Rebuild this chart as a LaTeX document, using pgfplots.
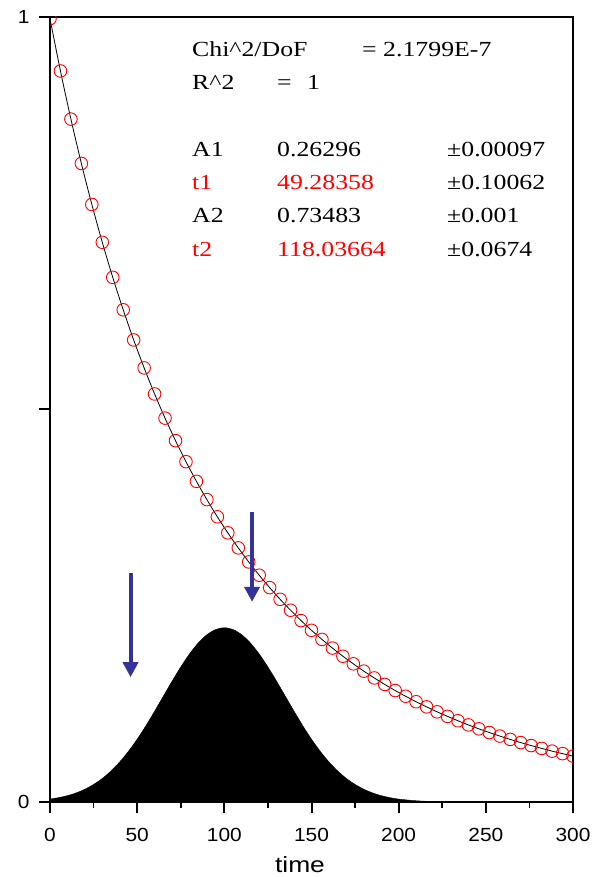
\documentclass[border=0pt]{standalone}
\usepackage{fontspec}
\setmainfont{Liberation Sans}[FakeStretch=1.1]
\newfontfamily\annotfont{Liberation Serif}[FakeStretch=1.2]
\newfontfamily\labelfont{Liberation Sans}[FakeStretch=1.2]
\usepackage{pgfplots}
\pgfplotsset{compat=1.18}
\usetikzlibrary{arrows.meta}
\definecolor{arrowblue}{RGB}{51,51,153}
\newcommand{\ticksize}{\fontsize{19}{22}\selectfont}
\newcommand{\annot}{\annotfont\fontsize{21.5}{25}\selectfont}

\begin{document}
\begin{tikzpicture}
\path[use as bounding box] (-50pt,-75pt) rectangle (553pt,802pt);
\begin{axis}[
  at={(0,0)},anchor=south west,
  scale only axis,width=523pt,height=785pt,
  xmin=0,xmax=300,ymin=0,ymax=1,
  xtick={0,50,...,300},minor x tick num=1,
  ytick={0,0.5,1},yticklabels={0,{},1},
  tick align=outside,xtick pos=left,ytick pos=left,
  major tick length=11pt,minor tick length=6pt,
  axis line style={line width=2pt},
  major tick style={black,line width=2pt},
  minor tick style={black,line width=1.6pt},
  tick label style={font=\ticksize},
  xticklabel style={yshift=-12pt},
  yticklabel style={xshift=-6pt},
  /pgf/number format/assume math mode=true,
  xlabel={time},
  xlabel style={font=\labelfont\fontsize{22}{26}\selectfont,at={(rel axis cs:0.478,0)},anchor=base,yshift=-70pt},
  clip marker paths=true,
]
% pulse
\addplot[fill=black,draw=black,smooth] coordinates {
(0,0.0037)(5,0.0056)(10,0.0081)(15,0.0116)(20,0.0163)(25,0.0224)(30,0.0300)
(35,0.0396)(40,0.0511)(45,0.0646)(50,0.0800)(55,0.0971)(60,0.1156)(65,0.1347)
(70,0.1538)(75,0.1720)(80,0.1886)(85,0.2025)(90,0.2131)(95,0.2197)(100,0.2220)
(105,0.2197)(110,0.2131)(115,0.2025)(120,0.1886)(125,0.1720)(130,0.1538)
(135,0.1347)(140,0.1156)(145,0.0971)(150,0.0800)(155,0.0646)(160,0.0511)
(165,0.0396)(170,0.0300)(175,0.0224)(180,0.0163)(185,0.0116)(190,0.0081)
(195,0.0056)(200,0.0037)(210,0.0016)(220,0.0006)(230,0.0002)(240,0)(300,0)
} \closedcycle;
% fit curve
\addplot[black,line width=0.8pt,smooth] coordinates {
(0,0.9978)(6,0.9312)(12,0.8699)(18,0.8134)(24,0.7612)(30,0.7130)(36,0.6683)
(42,0.6270)(48,0.5886)(54,0.5530)(60,0.5198)(66,0.4890)(72,0.4603)(78,0.4335)
(84,0.4085)(90,0.3852)(96,0.3633)(102,0.3429)(108,0.3237)(114,0.3058)(120,0.2889)
(126,0.2731)(132,0.2582)(138,0.2443)(144,0.2311)(150,0.2187)(156,0.2071)
(162,0.1961)(168,0.1857)(174,0.1760)(180,0.1667)(186,0.1580)(192,0.1498)
(198,0.1420)(204,0.1347)(210,0.1277)(216,0.1212)(222,0.1149)(228,0.1091)
(234,0.1035)(240,0.0982)(246,0.0932)(252,0.0885)(258,0.0840)(264,0.0797)
(270,0.0757)(276,0.0719)(282,0.0683)(288,0.0648)(294,0.0616)(300,0.0585)
};
% data
\addplot[only marks,mark=o,mark size=6.3pt,red,line width=0.9pt] coordinates {
(0,0.9978)(6,0.9312)(12,0.8699)(18,0.8134)(24,0.7612)(30,0.7130)(36,0.6683)
(42,0.6270)(48,0.5886)(54,0.5530)(60,0.5198)(66,0.4890)(72,0.4603)(78,0.4335)
(84,0.4085)(90,0.3852)(96,0.3633)(102,0.3429)(108,0.3237)(114,0.3058)(120,0.2889)
(126,0.2731)(132,0.2582)(138,0.2443)(144,0.2311)(150,0.2187)(156,0.2071)
(162,0.1961)(168,0.1857)(174,0.1760)(180,0.1667)(186,0.1580)(192,0.1498)
(198,0.1420)(204,0.1347)(210,0.1277)(216,0.1212)(222,0.1149)(228,0.1091)
(234,0.1035)(240,0.0982)(246,0.0932)(252,0.0885)(258,0.0840)(264,0.0797)
(270,0.0757)(276,0.0719)(282,0.0683)(288,0.0648)(294,0.0616)(300,0.0585)
};
\draw[arrowblue,line width=4pt,-{Triangle[length=15pt,width=15pt]}] (axis cs:46.2,0.292) -- (axis cs:46.2,0.159);
\draw[arrowblue,line width=4pt,-{Triangle[length=15pt,width=15pt]}] (axis cs:115.9,0.370) -- (axis cs:115.9,0.255);
\end{axis}
\begin{scope}[every node/.style={anchor=base west,inner sep=0pt,font=\annot}]
\node at (142pt,745pt) {Chi\textasciicircum2/DoF};
\node at (312pt,745pt) {= 2.1799E-7};
\node at (142pt,712pt) {R\textasciicircum2};
\node at (227pt,712pt) {=};
\node at (257pt,712pt) {1};
\node at (142pt,645pt) {A1};
\node at (227pt,645pt) {0.26296};
\node at (397pt,645pt) {±0.00097};
\node[text=red] at (142pt,612pt) {t1};
\node[text=red] at (227pt,612pt) {49.28358};
\node at (397pt,612pt) {±0.10062};
\node at (142pt,579pt) {A2};
\node at (227pt,579pt) {0.73483};
\node at (397pt,579pt) {±0.001};
\node[text=red] at (142pt,545pt) {t2};
\node[text=red] at (227pt,545pt) {118.03664};
\node at (397pt,545pt) {±0.0674};
\end{scope}
\end{tikzpicture}
\end{document}
